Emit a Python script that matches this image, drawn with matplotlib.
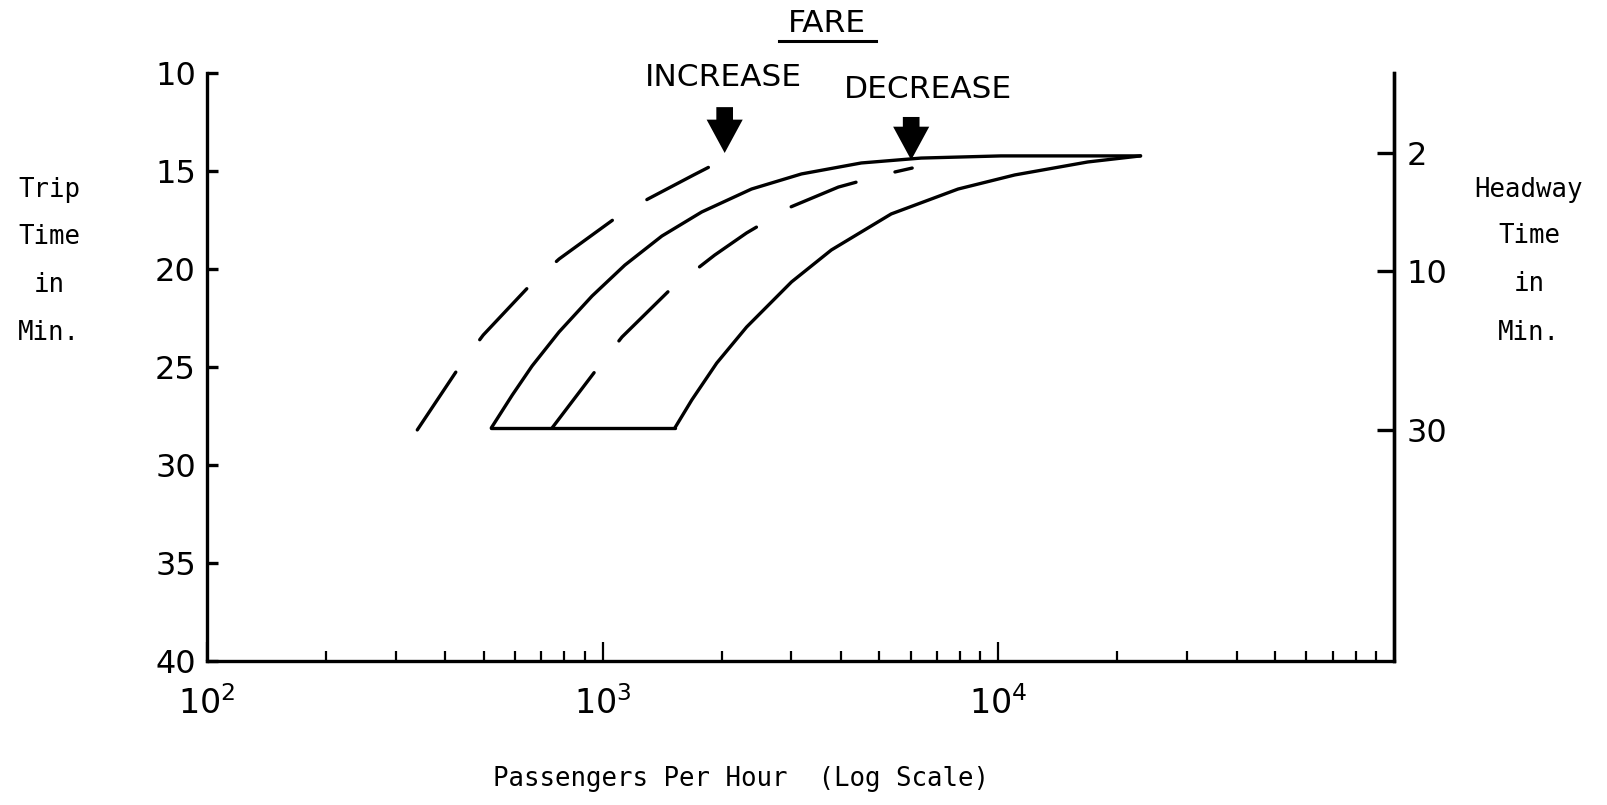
import matplotlib
matplotlib.use("Agg")
import matplotlib.pyplot as plt
from matplotlib.lines import Line2D

plt.rcParams['mathtext.fontset'] = 'dejavusans'
plt.rcParams['font.family'] = ['DejaVu Sans']
plt.rcParams['lines.scale_dashes'] = False

# Existing fare: lower and upper edges of the service envelope
base_low_pph = [523, 591, 663, 776, 940, 1138, 1411, 1780, 2378, 3180, 4505, 6380, 10150, 22880]
base_low_trip = [28.11, 26.43, 24.95, 23.21, 21.38, 19.80, 18.32, 17.09, 15.92, 15.15, 14.59, 14.34,
                 14.23, 14.23]
base_high_pph = [1522, 1680, 1942, 2311, 3001, 3784, 5362, 7912, 11010, 16820, 22880]
base_high_trip = [28.11, 26.68, 24.80, 22.96, 20.66, 19.03, 17.19, 15.92, 15.20, 14.54, 14.23]

# Fare increase / decrease curves
incr_pph = [340, 434, 499, 656, 776, 1086, 1301, 1699, 2034]
incr_trip = [28.21, 25.0, 23.37, 20.82, 19.49, 17.35, 16.43, 15.20, 14.39]
decr_pph = [745, 984, 1119, 1478, 1919, 2311, 2983, 3942, 5208, 6057]
decr_trip = [28.11, 24.90, 23.47, 21.07, 19.29, 18.16, 16.84, 15.82, 15.15, 14.85]

# Arrow tips for the annotations
incr_tip = (2034, 14.08)
decr_tip = (6022, 14.44)

trip_ticks = [10, 15, 20, 25, 30, 35, 40]
headway_labels = ['2', '10', '30']
headway_trip_pos = [14.1, 20.1, 28.2]
x_major = [1e2, 1e3, 1e4]
x_major_labels = [r'$10^2$', r'$10^3$', r'$10^4$']

W, H = 1607, 805
fig = plt.figure(figsize=(W / 100, H / 100), dpi=100)
ax = fig.add_axes([207 / W, 1 - 661 / H, (1394 - 207) / W, (661 - 73) / H])

LW = 2.4
solid = dict(color='black', lw=LW, solid_capstyle='round', solid_joinstyle='round')
dashed = dict(color='black', lw=LW, dashes=(50, 29), dash_capstyle='round', dash_joinstyle='round')
ax.plot(base_low_pph, base_low_trip, **solid)
ax.plot(base_high_pph, base_high_trip, **solid)
ax.plot([base_low_pph[0], base_high_pph[0]], [base_low_trip[0], base_high_trip[0]], **solid)
ax.plot(incr_pph, incr_trip, **dashed)
ax.plot(decr_pph, decr_trip, **dashed)

for tip, rise in ((incr_tip, 33), (decr_tip, 31)):
    ax.annotate('', xy=tip, xytext=(0, rise), textcoords='offset points',
                arrowprops=dict(arrowstyle='simple,head_length=1.2,head_width=1.3,tail_width=0.6',
                                mutation_scale=20, fc='black', ec='none', lw=0,
                                shrinkA=0, shrinkB=0))

ax.set_xscale('log')
ax.set_xlim(1e2, 1e5)
ax.set_ylim(40, 10)

ax.spines['top'].set_visible(False)
for s in ('left', 'right', 'bottom'):
    ax.spines[s].set_linewidth(LW)
ax.spines['left'].set_bounds(10, 40)

ax.set_yticks(trip_ticks)
ax.set_yticklabels([str(t) for t in trip_ticks])
ax.tick_params(axis='y', which='major', direction='in', length=8, width=LW,
               labelsize=23, pad=8, left=True, right=False)

ax.set_xticks(x_major)
ax.set_xticklabels(x_major_labels)
ax.tick_params(axis='x', which='major', direction='in', length=14, width=1.6,
               labelsize=24, pad=18)
ax.tick_params(axis='x', which='minor', direction='in', length=7.5, width=1.6)

ax2 = ax.twinx()
ax2.set_ylim(40, 10)
ax2.set_yticks(headway_trip_pos)
ax2.set_yticklabels(headway_labels)
ax2.tick_params(axis='y', direction='in', length=12, width=LW, labelsize=23, pad=9)
for s in ('top', 'left', 'bottom'):
    ax2.spines[s].set_visible(False)
ax2.spines['right'].set_linewidth(LW)


def fx(px):
    return px / W


def fy(py):
    return 1 - py / H


mono = 'DejaVu Sans Mono'
for word, py in zip(['Trip', 'Time', 'in', 'Min.'], [190, 237, 285, 333]):
    fig.text(fx(49), fy(py), word, family=mono, fontsize=18.5, ha='center', va='center')
for word, py in zip(['Headway', 'Time', 'in', 'Min.'], [190, 236, 284, 333]):
    fig.text(fx(1529), fy(py), word, family=mono, fontsize=18.5, ha='center', va='center')
fig.text(fx(741), fy(779), 'Passengers Per Hour  (Log Scale)', family=mono, fontsize=18.5,
         ha='center', va='center')

fig.text(fx(827), fy(23), 'FARE', fontsize=22.5, ha='center', va='center')
fig.add_artist(Line2D([fx(779), fx(876)], [fy(41), fy(41)], color='black', lw=2.2))
fig.text(fx(723), fy(77), 'INCREASE', fontsize=22.5, ha='center', va='center')
fig.text(fx(928), fy(90), 'DECREASE', fontsize=22.5, ha='center', va='center')

fig.savefig('out.png', dpi=100, facecolor='white')
